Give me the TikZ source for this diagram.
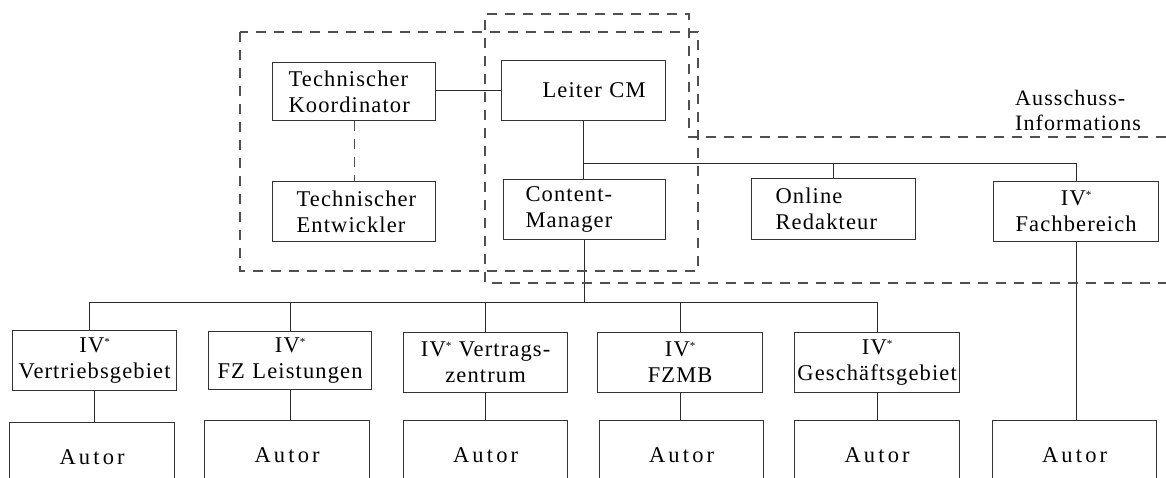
\documentclass[tikz,border=0pt]{standalone}
\usepackage{fontspec}
\setmainfont{Liberation Serif}[LetterSpace=5.0]
\newfontfamily\autorfont{Liberation Serif}[LetterSpace=14.0]
\newcommand\ivstar{IV\raisebox{7pt}{\fontsize{11}{11}\selectfont *}}
\definecolor{boxline}{HTML}{333333}
\definecolor{wire}{HTML}{2A2A2A}
\definecolor{zone}{HTML}{505050}
\tikzset{
  box/.style={draw=boxline, line width=1.2pt, anchor=north west,
    inner ysep=0pt, minimum height=60pt,
    font=\fontsize{22.5}{26}\selectfont},
  lbox/.style={box, align=left},
  cbox/.style={box, align=center, inner xsep=3pt},
  autor/.style={box, align=center, inner xsep=3pt, minimum height=70pt,
    font=\fontsize{22.5}{26}\selectfont\autorfont},
  wire/.style={draw=wire, line width=1pt},
  zone/.style={draw=zone, line width=1.2pt, dash pattern=on 10pt off 8pt},
  note/.style={anchor=west, align=left, inner sep=0pt,
    font=\fontsize{22}{25}\selectfont}
}
\begin{document}
\begin{tikzpicture}[x=1pt,y=-1pt]
\clip (0,0) rectangle (1166,477);
\fill[white] (0,0) rectangle (1166,477);

% upper management level
\node[lbox, inner xsep=16pt, text width=131pt, minimum height=58pt] (tk) at (272,62) {Technischer\\Koordinator};
\node[lbox, inner xsep=41pt, text width=82pt] (leiter) at (501,60) {Leiter~CM};
\node[lbox, inner xsep=24pt, text width=115pt] (te) at (272,181) {Technischer\\Entwickler};
\node[lbox, inner xsep=22pt, text width=118pt] (cm) at (503,179) {Content-\\Manager};
\node[lbox, inner xsep=24pt, text width=116pt, minimum height=61pt] (red) at (751,178) {Online\\Redakteur};
\node[cbox, text width=159pt] (fb) at (993,181) {\ivstar\\Fachbereich};

% information managers
\node[cbox, text width=158pt] (v1) at (12,330) {\ivstar\\Vertriebsgebiet};
\node[cbox, text width=157pt, minimum height=58pt] (v2) at (208,331) {\ivstar\\FZ Leistungen};
\node[cbox, text width=158pt] (v3) at (403,332) {\ivstar{} Vertrags-\\zentrum};
\node[cbox, text width=159pt] (v4) at (597,332) {\ivstar\\FZMB};
\node[cbox, inner xsep=1pt, text width=163pt] (v5) at (794,332) {\ivstar\\Geschäftsgebiet};

% authors
\node[autor, text width=159pt] (a1) at (9,422) {Autor};
\node[autor, text width=159pt] (a2) at (204,420) {Autor};
\node[autor, text width=158pt] (a3) at (403,420) {Autor};
\node[autor, text width=158pt] (a4) at (599,420) {Autor};
\node[autor, text width=159pt] (a5) at (794,420) {Autor};
\node[autor, text width=158pt] (a6) at (992,420) {Autor};

\node[note] (aus) at (1015,110) {Ausschuss-\\Informations};

% reporting lines
\draw[wire] (tk.east |- leiter.west) -- (leiter.west);
\draw[zone] (tk.south) -- (tk.south |- te.north);
\draw[wire] (leiter.south) -- (leiter.south |- cm.north);
\coordinate (j1) at (583,163);
\draw[wire] (j1) -| (fb.north);
\draw[wire] (red.north |- j1) -- (red.north);

\coordinate (j2) at (583,302);
\draw[wire] (cm.south) -- (cm.south |- j2);
\draw[wire] ([xshift=-5pt]v1.north) |- (j2);
\draw[wire] (j2) -| (v5.north);
\foreach \v in {v2,v3,v4}
  \draw[wire] (\v.north |- j2) -- (\v.north);

\foreach \v/\a in {v1/a1,v2/a2,v3/a3,v4/a4,v5/a5}
  \draw[wire] (\v.south) -- (\v.south |- \a.north);
\draw[wire] (fb.south) -- (fb.south |- a6.north);

% organisational zones
\draw[zone] (240,32) rectangle (698,271);
\draw[zone] (1166,137) -- (689,137) -- (689,14) -- (485,14) -- (485,283) -- (1166,283);
\end{tikzpicture}
\end{document}
